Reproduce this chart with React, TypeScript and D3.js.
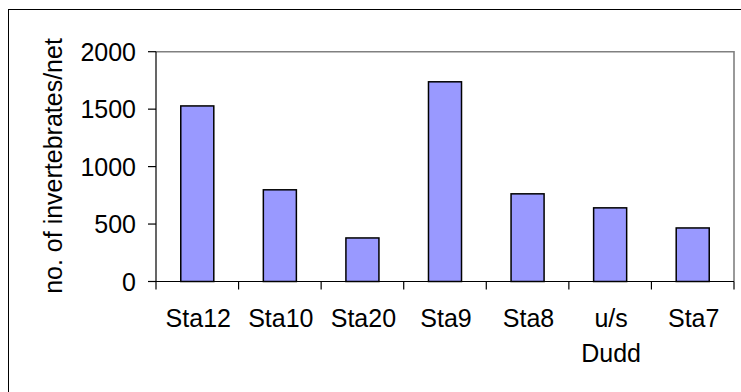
import React from "react";
import * as d3 from "d3";

const categories: string[][] = [["Sta12"], ["Sta10"], ["Sta20"], ["Sta9"], ["Sta8"], ["u/s", "Dudd"], ["Sta7"]];
const values: number[] = [1528, 798, 379, 1738, 763, 641, 466];
const yTicks: number[] = [0, 500, 1000, 1500, 2000];
const yTitle = "no. of invertebrates/net";

const W = 741;
const H = 392;
const left = 156;
const right = 734;
const top = 51.7;
const bottom = 281.5;
const FONT = "'Liberation Sans', Arial, sans-serif";

export default function App() {
  const idx = categories.map((_, i) => String(i));
  const x = d3.scaleBand<string>().domain(idx).range([left, right]).paddingInner(0.6).paddingOuter(0.3);
  const xb = d3.scaleBand<string>().domain(idx).range([left, right]);
  const y = d3.scaleLinear().domain([0, 2000]).range([bottom, top]);
  const bounds = idx.map((k) => xb(k) as number).concat([right]);

  return (
    <svg width={W} height={H} style={{ position: "absolute", left: 0, top: 0, background: "#fff" }}>
      <rect x={8.5} y={9.5} width={800} height={500} fill="#fff" stroke="#000" strokeWidth={1} />
      {/* plot border top/right gray */}
      <path d={`M${left},${top}H${right}V${bottom}`} fill="none" stroke="#808080" strokeWidth={1.6} />
      {/* bars */}
      {values.map((v, i) => (
        <rect
          key={i}
          x={x(String(i))}
          y={y(v)}
          width={x.bandwidth()}
          height={y(0) - y(v)}
          fill="#9999FF"
          stroke="#000"
          strokeWidth={1.5}
        />
      ))}
      {/* y axis */}
      <line x1={left} x2={left} y1={top} y2={bottom} stroke="#000" strokeWidth={1.2} />
      {yTicks.map((t) => (
        <g key={t}>
          <line x1={left - 8} x2={left} y1={y(t)} y2={y(t)} stroke="#000" strokeWidth={1.2} />
          <text x={136} y={y(t)} dy="0.36em" textAnchor="end" fontFamily={FONT} fontSize={25} fill="#000">
            {t}
          </text>
        </g>
      ))}
      {/* x axis */}
      <line x1={left - 8} x2={right} y1={bottom} y2={bottom} stroke="#000" strokeWidth={1.2} />
      {bounds.map((b, i) => (
        <line key={i} x1={b} x2={b} y1={bottom} y2={bottom + 8} stroke="#000" strokeWidth={1.2} />
      ))}
      {categories.map((lines, i) => (
        <text
          key={i}
          x={(xb(String(i)) as number) + xb.bandwidth() / 2 + 1}
          y={326.5}
          textAnchor="middle"
          fontFamily={FONT}
          fontSize={25}
          fill="#000"
        >
          {lines.map((l, j) => (
            <tspan key={j} x={(xb(String(i)) as number) + xb.bandwidth() / 2 + 1} dy={j === 0 ? 0 : 35}>
              {l}
            </tspan>
          ))}
        </text>
      ))}
      <text
        transform={`translate(62,166) rotate(-90)`}
        textAnchor="middle"
        fontFamily={FONT}
        fontSize={25}
        fill="#000"
      >
        {yTitle}
      </text>
    </svg>
  );
}
